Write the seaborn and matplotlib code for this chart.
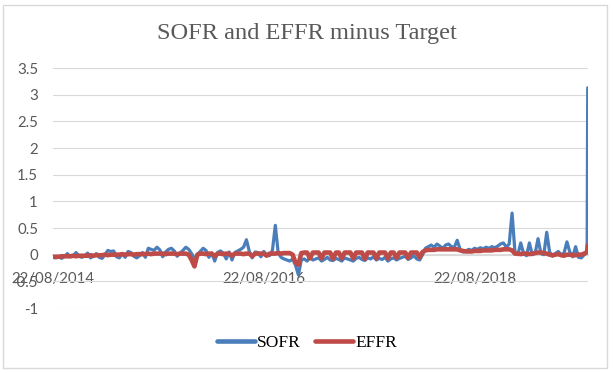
import matplotlib
matplotlib.use("Agg")
import matplotlib.pyplot as plt
import matplotlib.dates as mdates
from matplotlib.patches import Rectangle
import seaborn as sns
import pandas as pd

# ---- data (spread over target, %), 10-day samples from 22/08/2014, last point 17/09/2019
start_date = "2014-08-22"
last_date = "2019-09-17"
sofr = [
    -0.05, -0.06, -0.04, -0.07, -0.03, 0.02, -0.04, -0.02, 0.04, -0.03, -0.05,
    -0.02, 0.03, -0.06, -0.03, 0.02, -0.05, -0.07, 0.0, 0.08, 0.06,
    0.07, -0.04, -0.06, 0.02, -0.05, 0.06, 0.04, -0.03, -0.06, -0.02,
    0.04, -0.05, 0.12, 0.1, 0.08, 0.14, 0.09, -0.04, 0.05, 0.1,
    0.12, 0.07, -0.03, 0.03, 0.08, 0.14, 0.1, 0.02, -0.08, 0.0,
    0.06, 0.12, 0.08, -0.05, 0.03, -0.12, 0.04, 0.07, 0.03, -0.08,
    0.05, -0.1, 0.04, 0.07, 0.1, 0.14, 0.28, 0.06, -0.06, 0.05,
    0.04, -0.04, 0.06, 0.0, -0.02, 0.08, 0.55, 0.03, -0.05, -0.08,
    -0.1, -0.12, -0.08, -0.2, -0.38, -0.1, -0.08, -0.12, -0.05, -0.1,
    -0.08, -0.06, -0.12, -0.09, -0.05, -0.1, -0.11, -0.07, -0.09, -0.12,
    -0.06, -0.08, -0.1, -0.12, -0.07, -0.05, -0.09, -0.11, -0.06, -0.08,
    -0.04, -0.1, -0.07, -0.09, -0.05, -0.12, -0.08, -0.06, -0.1, -0.07,
    -0.05, -0.03, -0.09, -0.06, -0.02, -0.08, -0.1, 0.0,
    0.12, 0.15, 0.18, 0.14, 0.2, 0.16, 0.12, 0.18, 0.2, 0.15, 0.14, 0.27,
    0.1, 0.05, 0.07, 0.1, 0.08, 0.12, 0.1, 0.13, 0.11, 0.14,
    0.12, 0.15, 0.13, 0.16, 0.2, 0.22, 0.14, 0.2,
    0.78,
    0.05, 0.0, 0.22, 0.02, -0.02, 0.22, 0.0, 0.03, 0.3, 0.02, 0.0,
    0.42, 0.05, -0.03, 0.02, 0.06, 0.0, 0.03, 0.24, 0.05, -0.04, 0.15, -0.05, -0.06, 0.0, 0.04,
    3.13,
]
effr = [
    -0.04, -0.04, -0.04, -0.03, -0.03, -0.03, -0.03, -0.02, -0.03, -0.02, -0.02,
    -0.02, -0.02, -0.01, -0.02, -0.01, -0.01, -0.01, 0.0, -0.01, 0.0,
    0.0, 0.0, 0.0, 0.01, 0.0, 0.01, 0.01, 0.0, 0.01, 0.01,
    0.01, 0.01, 0.02, 0.01, 0.02, 0.02, 0.02, 0.02, 0.01, 0.02,
    0.02, 0.02, 0.01, 0.02, 0.02, 0.02, 0.0, -0.1, -0.22, 0.0,
    0.02, 0.02, 0.01, 0.02, 0.02, -0.03, 0.02, 0.02, 0.01, 0.02,
    0.02, -0.02, 0.02, 0.02, 0.02, 0.01, 0.02, 0.02, -0.03, 0.02,
    0.02, 0.02, 0.02, -0.02, 0.02, 0.02, 0.02, 0.03, 0.02, 0.03,
    0.03, 0.03, 0.0, -0.15, -0.19, 0.03, 0.04, 0.04, -0.07, 0.04,
    0.04, 0.04, -0.07, 0.04, 0.04, 0.04, -0.08, 0.04, 0.04, -0.07,
    0.04, 0.04, 0.04, -0.07, 0.04, 0.04, 0.04, -0.08, 0.04, 0.04,
    0.04, -0.07, 0.04, 0.04, 0.04, -0.07, 0.04, 0.04, -0.06, 0.04,
    0.04, 0.04, -0.06, 0.04, 0.04, 0.04, -0.05, 0.05,
    0.08, 0.09, 0.09, 0.09, 0.1, 0.1, 0.1, 0.1, 0.1, 0.1, 0.1, 0.1,
    0.08, 0.07, 0.06, 0.06, 0.06, 0.07, 0.07, 0.07, 0.08, 0.08,
    0.08, 0.08, 0.09, 0.09, 0.09, 0.1, 0.1, 0.1,
    0.08,
    0.02, 0.02, 0.01, 0.02, 0.02, 0.01, 0.02, 0.03, 0.04, 0.04, 0.03,
    0.02, 0.0, -0.01, 0.0, 0.01, -0.01, -0.02, 0.0, 0.0, -0.01, -0.01, 0.0, 0.0, 0.02, 0.05,
    0.175,
]
series_names = ["SOFR", "EFFR"]
x_tick_dates = ["2014-08-22", "2016-08-22", "2018-08-22"]
y_ticks = [-1, -0.5, 0, 0.5, 1, 1.5, 2, 2.5, 3, 3.5]
y_tick_labels = ["-1", "-0.5", "0", "0.5", "1", "1.5", "2", "2.5", "3", "3.5"]
title = "SOFR and EFFR minus Target"


def make_dates(n):
    d = list(pd.date_range(start_date, periods=n - 1, freq="10D"))
    return d + [pd.Timestamp(last_date)]


df_sofr = pd.DataFrame({"date": make_dates(len(sofr)), "value": sofr})
df_effr = pd.DataFrame({"date": make_dates(len(effr)), "value": effr})

sns.set_theme(style="white")
plt.rcParams["font.family"] = ["Lato", "DejaVu Sans"]
plt.rcParams["axes.unicode_minus"] = False

blue = "#4A7EBB"
red = "#BE4B48"
text_grey = "#595959"
grid_grey = "#D9D9D9"
serif = ["Liberation Serif", "DejaVu Serif"]

fig = plt.figure(figsize=(6.13, 3.73), dpi=100)
fig.patch.set_facecolor("white")
fig.patches.append(Rectangle((3 / 613, 1 - 368 / 373), 604 / 613, 363 / 373,
                             transform=fig.transFigure, fill=False,
                             edgecolor=grid_grey, linewidth=1.0))

ax = fig.add_axes([53 / 613, 1 - 308 / 373, 535 / 613, 240 / 373])

sns.lineplot(data=df_sofr, x="date", y="value", ax=ax, color=blue,
             linewidth=2.3, estimator=None, label=series_names[0])
sns.lineplot(data=df_effr, x="date", y="value", ax=ax, color=red,
             linewidth=3.3, estimator=None, label=series_names[1])

ax.set_ylim(-1, 3.5)
ax.set_xlim(pd.Timestamp(start_date), pd.Timestamp(last_date) + pd.Timedelta(days=1))
ax.set_yticks(y_ticks)
ax.set_yticklabels(y_tick_labels)
ax.set_xticks([pd.Timestamp(d) for d in x_tick_dates])
ax.xaxis.set_major_formatter(mdates.DateFormatter("%d/%m/%Y"))
ax.set_xlabel("")
ax.set_ylabel("")

ax.grid(axis="y", color=grid_grey, linewidth=0.8)
ax.set_axisbelow(True)
for s in ["top", "right", "left"]:
    ax.spines[s].set_visible(False)
ax.spines["bottom"].set_position(("data", 0))
ax.spines["bottom"].set_color(grid_grey)
ax.spines["bottom"].set_zorder(0.5)

ax.tick_params(axis="y", length=0, pad=10.8, labelsize=10.8, labelcolor=text_grey)
ax.tick_params(axis="x", length=0, pad=12.5, labelsize=10.8, labelcolor=text_grey)

fig.text(0.5, 1 - 33 / 373, title, ha="center", va="center",
         fontsize=17.6, color=text_grey, family=serif)

leg = ax.legend(loc="center", bbox_to_anchor=(307 / 613, 1 - 343 / 373),
                bbox_transform=fig.transFigure, ncol=2, frameon=False,
                handlelength=2.2, handletextpad=0.15, columnspacing=0.8,
                prop={"family": serif, "size": 12.5})
for t in leg.get_texts():
    t.set_color("#000000")
for h in leg.get_lines():
    h.set_linewidth(3.3)
    h.set_solid_capstyle("round")

fig.savefig("out.png", dpi=100, facecolor="white")
